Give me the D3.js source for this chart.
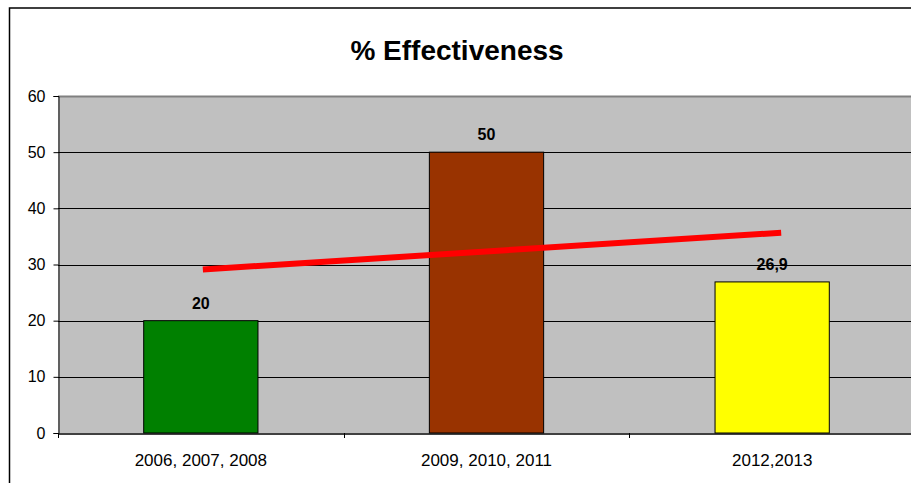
<!DOCTYPE html>
<html><head><meta charset="utf-8">
<script src="https://cdn.jsdelivr.net/npm/d3@7"></script>
<style>body{margin:0;background:#fff}svg{display:block}</style>
</head><body>
<script>
const categories = ["2006, 2007, 2008", "2009, 2010, 2011", "2012,2013"];
const values = [20, 50, 26.9];
const valueLabels = ["20", "50", "26,9"];
const barColors = ["#008000", "#993300", "#FFFF00"];
const yTicks = [0, 10, 20, 30, 40, 50, 60];
const title = "% Effectiveness";

const W = 911, H = 483;
const FONT = "Liberation Sans, Arial, sans-serif";
const m = {left: 58, top: 96, right: -4, bottom: 50};
const svg = d3.select("body").append("svg").attr("width", W).attr("height", H);

// outer chart border
svg.append("rect").attr("x", 9.5).attr("y", 8).attr("width", 920).attr("height", 500)
  .attr("fill", "#fff").attr("stroke", "#000").attr("stroke-width", 1.5);

const x = d3.scaleBand().domain(categories).range([m.left, W - m.right]).paddingInner(0).paddingOuter(0);
const y = d3.scaleLinear().domain([0, 60]).range([433, m.top]);

// plot area
svg.append("rect").attr("x", m.left).attr("y", y(60)).attr("width", x.range()[1] - m.left)
  .attr("height", y(0) - y(60)).attr("fill", "#C0C0C0");

// gridlines
svg.append("g").selectAll("line").data(yTicks.filter(d => d > 0)).join("line")
  .attr("x1", m.left).attr("x2", x.range()[1])
  .attr("y1", d => Math.round(y(d)) + 0.5).attr("y2", d => Math.round(y(d)) + 0.5)
  .attr("stroke", d => d === 60 ? "#808080" : "#000").attr("stroke-width", d => d === 60 ? 2 : 1);

// bars
const bw = x.bandwidth() * 0.4;
svg.append("g").selectAll("rect").data(values).join("rect")
  .attr("x", (d, i) => x(categories[i]) + (x.bandwidth() - bw) / 2)
  .attr("y", d => y(d)).attr("width", bw).attr("height", d => y(0) - y(d))
  .attr("fill", (d, i) => barColors[i]).attr("stroke", "#000").attr("stroke-width", 1);

// data labels
svg.append("g").selectAll("text").data(values).join("text")
  .attr("x", (d, i) => x(categories[i]) + x.bandwidth() / 2)
  .attr("y", d => y(d) - 12)
  .attr("text-anchor", "middle").attr("font-family", FONT)
  .attr("font-size", 16).attr("font-weight", "bold").text((d, i) => valueLabels[i]);

// linear trendline
const n = values.length;
const xs = values.map((d, i) => i + 1);
const mx = d3.mean(xs), my = d3.mean(values);
const slope = d3.sum(xs.map((xi, i) => (xi - mx) * (values[i] - my))) / d3.sum(xs.map(xi => (xi - mx) ** 2));
const icpt = my - slope * mx;
const cx = i => x(categories[i]) + x.bandwidth() / 2;
svg.append("line")
  .attr("x1", cx(0) + 2).attr("y1", y(icpt + slope * 1) - 1.5)
  .attr("x2", cx(n - 1) + 9).attr("y2", y(icpt + slope * 3) + 0.5)
  .attr("stroke", "#FF0000").attr("stroke-width", 6);

// axes
const yAxis = svg.append("g").attr("transform", `translate(${m.left + 0.5},0)`)
  .call(d3.axisLeft(y).tickValues(yTicks).tickSize(5).tickPadding(8));
yAxis.select(".domain").attr("stroke", "#000");
yAxis.selectAll("text").attr("font-family", FONT).attr("font-size", 16).attr("fill", "#000");

const xAxis = svg.append("g").attr("transform", `translate(0,${y(0) + 0.5})`)
  .call(d3.axisBottom(x).tickSize(0).tickPadding(20));
xAxis.select(".domain").attr("stroke", "#000").attr("stroke-width", 1.5);
xAxis.selectAll("text").attr("font-family", FONT).attr("font-size", 17).attr("fill", "#000");
svg.append("g").selectAll("line").data(categories).join("line")
  .attr("x1", d => Math.round(x(d)) + 0.5).attr("x2", d => Math.round(x(d)) + 0.5)
  .attr("y1", y(0)).attr("y2", y(0) + 5).attr("stroke", "#000");

// title
svg.append("text").attr("x", 457).attr("y", 60).attr("text-anchor", "middle")
  .attr("font-family", FONT).attr("font-size", 28).attr("font-weight", "bold")
  .text(title);
</script>
</body></html>
